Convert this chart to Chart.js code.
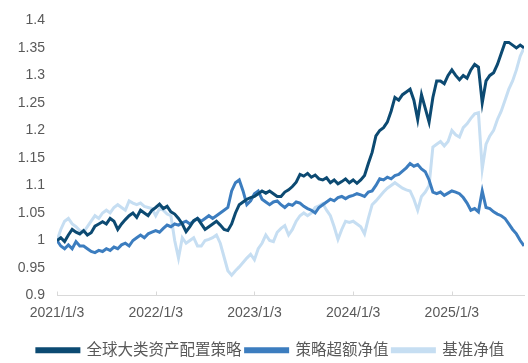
<!DOCTYPE html>
<html>
<head>
<meta charset="utf-8">
<script src="https://cdn.jsdelivr.net/npm/chart.js@4/dist/chart.umd.min.js"></script>
<style>
  html, body { margin: 0; padding: 0; background: #fff; }
  #wrap { width: 528px; height: 363px; }
</style>
</head>
<body>
<div id="wrap"><canvas id="navChart"></canvas></div>
<script>
// x = bi-weekly index from 2021/1/3, year ticks every 26 points
const tickIdx = [0, 26, 52, 78, 104];
const tickLabels = ['2021/1/3', '2022/1/3', '2023/1/3', '2024/1/3', '2025/1/3'];
const seriesNames = ['全球大类资产配置策略', '策略超额净值', '基准净值'];

const strategy = [
  1.000, 1.005, 0.998, 1.010, 1.020, 1.015, 1.012, 1.018, 1.010, 1.014,
  1.026, 1.030, 1.034, 1.030, 1.040, 1.035, 1.020, 1.030, 1.038, 1.045,
  1.050, 1.042, 1.055, 1.050, 1.045, 1.055, 1.060, 1.066, 1.058, 1.062,
  1.052, 1.048, 1.040, 1.030, 1.016, 1.025, 1.036, 1.040, 1.030, 1.020,
  1.025, 1.030, 1.035, 1.028, 1.020, 1.018, 1.030, 1.050, 1.065, 1.070,
  1.075, 1.078, 1.080, 1.085, 1.090, 1.086, 1.090, 1.085, 1.080, 1.080,
  1.088, 1.092, 1.098, 1.106, 1.120, 1.117, 1.122, 1.115, 1.119, 1.112,
  1.110, 1.114, 1.105, 1.110, 1.103, 1.107, 1.112, 1.105, 1.110, 1.104,
  1.110, 1.118, 1.140, 1.160, 1.190, 1.200, 1.205, 1.215, 1.235, 1.260,
  1.255, 1.265, 1.270, 1.275, 1.255, 1.220, 1.265, 1.240, 1.215, 1.260,
  1.290, 1.290, 1.285, 1.300, 1.310, 1.300, 1.292, 1.300, 1.295, 1.310,
  1.320, 1.315, 1.250, 1.290, 1.300, 1.305, 1.320, 1.340, 1.360, 1.360,
  1.355, 1.350, 1.355, 1.350
];

const excess = [
  1.000, 0.990, 0.985, 0.992, 0.985, 0.998, 0.990, 0.990, 0.985, 0.980,
  0.978, 0.982, 0.980, 0.985, 0.982, 0.988, 0.985, 0.992, 0.995, 0.990,
  1.000, 1.005, 1.010, 1.005, 1.012, 1.015, 1.018, 1.015, 1.022, 1.028,
  1.025, 1.030, 1.028, 1.032, 1.035, 1.030, 1.035, 1.040, 1.035, 1.040,
  1.045, 1.040, 1.045, 1.050, 1.055, 1.060, 1.090, 1.105, 1.110, 1.090,
  1.065, 1.072, 1.085, 1.090, 1.075, 1.070, 1.065, 1.070, 1.072, 1.065,
  1.060, 1.066, 1.064, 1.070, 1.068, 1.062, 1.058, 1.055, 1.050, 1.060,
  1.065, 1.070, 1.075, 1.072, 1.078, 1.080, 1.076, 1.080, 1.082, 1.085,
  1.083, 1.080, 1.088, 1.090, 1.100, 1.112, 1.110, 1.115, 1.112, 1.118,
  1.120, 1.126, 1.132, 1.140, 1.135, 1.138, 1.130, 1.125, 1.110, 1.088,
  1.085, 1.088, 1.082, 1.086, 1.090, 1.088, 1.085, 1.078, 1.068, 1.055,
  1.058, 1.052, 1.090, 1.060, 1.058, 1.052, 1.048, 1.045, 1.040, 1.030,
  1.020, 1.012, 1.000, 0.990
];

const benchmark = [
  1.000, 1.020, 1.035, 1.040, 1.030, 1.025, 1.018, 1.015, 1.025, 1.035,
  1.045, 1.040, 1.050, 1.055, 1.050, 1.060, 1.065, 1.060, 1.055, 1.072,
  1.068, 1.065, 1.068, 1.062, 1.060, 1.058, 1.045, 1.058, 1.055, 1.048,
  1.045, 1.000, 0.968, 1.005, 0.995, 1.000, 1.005, 0.990, 0.990, 1.000,
  1.002, 1.005, 1.010, 0.995, 0.970, 0.945, 0.937, 0.945, 0.952, 0.960,
  0.968, 0.975, 0.965, 0.985, 0.995, 1.010, 1.000, 0.998, 1.015, 1.022,
  1.027, 1.010, 1.020, 1.035, 1.045, 1.050, 1.045, 1.050, 1.060, 1.063,
  1.067, 1.055, 1.045, 1.025, 1.002, 1.020, 1.035, 1.033, 1.035, 1.030,
  1.025, 1.012, 1.040, 1.065, 1.072, 1.080, 1.088, 1.095, 1.100, 1.105,
  1.100, 1.095, 1.092, 1.090, 1.075, 1.055, 1.080, 1.088, 1.100, 1.170,
  1.175, 1.180, 1.172, 1.180, 1.200, 1.192, 1.188, 1.205, 1.212, 1.222,
  1.230, 1.232, 1.130, 1.175, 1.190, 1.200, 1.220, 1.235, 1.255, 1.275,
  1.290, 1.310, 1.335, 1.350
];

const colors = ['#0c4a72', '#3c7dbf', '#c6def2'];
const textColor = '#595959';
const fontFamily = '"Liberation Sans", Arial, "Noto Sans CJK SC", sans-serif';

function toPoints(arr) {
  return arr.map((v, i) => ({ x: i, y: v }));
}

// small inside tick marks on the x axis
const insideTicks = {
  id: 'insideTicks',
  afterDraw(chart) {
    const sx = chart.scales.x;
    const ctx = chart.ctx;
    ctx.save();
    ctx.strokeStyle = '#d9d9d9';
    ctx.lineWidth = 1;
    tickIdx.forEach(v => {
      const px = Math.round(sx.getPixelForValue(v)) + 0.5;
      ctx.beginPath();
      ctx.moveTo(px, sx.top);
      ctx.lineTo(px, sx.top - 4);
      ctx.stroke();
    });
    ctx.restore();
  }
};

document.addEventListener('DOMContentLoaded', () => {
  const ctx = document.getElementById('navChart').getContext('2d');
  const series = [strategy, excess, benchmark];
  new Chart(ctx, {
    type: 'line',
    data: {
      datasets: series.map((s, k) => ({
        label: seriesNames[k],
        data: toPoints(s),
        borderColor: colors[k],
        backgroundColor: colors[k],
        borderWidth: 3,
        pointRadius: 0,
        tension: 0,
        fill: false
      }))
    },
    options: {
      responsive: true,
      maintainAspectRatio: false,
      animation: false,
      layout: { padding: { top: 2, right: 4, bottom: -5, left: 17 } },
      scales: {
        x: {
          type: 'linear',
          min: 0,
          max: strategy.length - 1,
          afterBuildTicks: (scale) => { scale.ticks = tickIdx.map(v => ({ value: v })); },
          afterFit: (scale) => { scale.height = 43; },
          grid: { display: false, drawTicks: false },
          border: { display: true, color: '#d9d9d9', width: 1 },
          ticks: {
            autoSkip: false,
            maxRotation: 0,
            padding: 9,
            color: textColor,
            font: { family: fontFamily, size: 14 },
            callback: (v) => tickLabels[tickIdx.indexOf(v)]
          }
        },
        y: {
          min: 0.9,
          max: 1.4,
          afterFit: (scale) => { scale.width = 40; },
          grid: { display: false, drawTicks: false },
          border: { display: false },
          ticks: {
            stepSize: 0.05,
            padding: 12,
            color: textColor,
            font: { family: fontFamily, size: 14 },
            callback: (v) => String(Number(v.toFixed(2)))
          }
        }
      },
      plugins: {
        legend: {
          position: 'bottom',
          labels: {
            boxWidth: 42,
            boxHeight: 3,
            padding: 4,
            color: textColor,
            font: { family: fontFamily, size: 15.5 }
          }
        },
        tooltip: { enabled: false }
      }
    },
    plugins: [insideTicks]
  });
});
</script>
</body>
</html>
